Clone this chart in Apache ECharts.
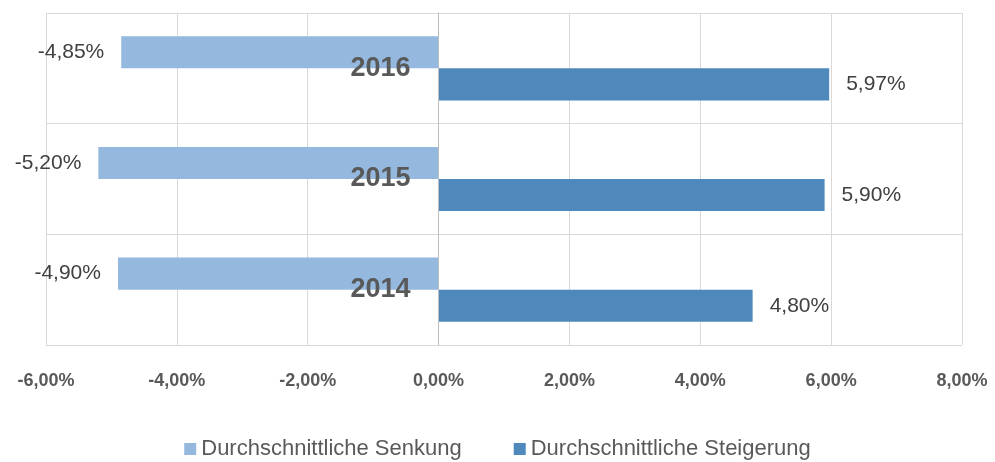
<!DOCTYPE html>
<html><head><meta charset="utf-8">
<script src="https://cdn.jsdelivr.net/npm/echarts@6/dist/echarts.min.js"></script>
<style>html,body{margin:0;padding:0;background:#fff}#c{width:995px;height:462px}</style>
</head><body><div id="c"></div>
<script>
var categories = ['2014', '2015', '2016'];
var senkung = [-4.90, -5.20, -4.85];
var steigerung = [4.80, 5.90, 5.97];
var seriesNames = ['Durchschnittliche Senkung', 'Durchschnittliche Steigerung'];
var xTicks = { min: -6, max: 8, interval: 2 };

function pct(v) { return v.toFixed(2).replace('.', ',') + '%'; }
var font = "'Liberation Sans', Arial, sans-serif";
var gridLeft = 46, gridRight = 33, W = 995;
var zeroOffset = (W - gridLeft - gridRight) * (0 - xTicks.min) / (xTicks.max - xTicks.min);
var chart = echarts.init(document.getElementById('c'), null, { renderer: 'canvas' });
chart.setOption({
  animation: false,
  textStyle: { fontFamily: font },
  grid: { left: gridLeft, right: gridRight, top: 13, bottom: 117, containLabel: false, outerBoundsMode: 'none' },
  legend: {
    top: 433, left: 'center', itemWidth: 12, itemHeight: 12, itemGap: 52,
    icon: 'rect',
    textStyle: { fontSize: 22, color: '#595959', fontFamily: font },
    data: seriesNames
  },
  xAxis: {
    type: 'value', min: xTicks.min, max: xTicks.max, interval: xTicks.interval,
    axisLine: { show: false }, axisTick: { show: false },
    splitLine: { lineStyle: { color: '#d9d9d9', width: 1 } },
    axisLabel: { formatter: pct, fontSize: 18, fontWeight: 'bold', color: '#595959', margin: 27, fontFamily: font }
  },
  yAxis: {
    type: 'category', data: categories, z: 10, offset: -zeroOffset,
    axisLine: { onZero: false, lineStyle: { color: '#bfbfbf', width: 1 } },
    axisTick: { show: false },
    splitLine: { show: true, lineStyle: { color: '#d9d9d9', width: 1 } },
    axisLabel: { fontSize: 27, fontWeight: 'bold', color: '#595959', margin: 28, fontFamily: font }
  },
  series: [
    {
      name: seriesNames[0], type: 'bar', data: senkung, barCategoryGap: '42%', barGap: '0%',
      itemStyle: { color: '#95b8df' },
      label: { show: true, position: 'left', distance: 17, formatter: function (p) { return pct(p.value); }, fontSize: 21, color: '#404040', fontFamily: font }
    },
    {
      name: seriesNames[1], type: 'bar', data: steigerung, barCategoryGap: '42%', barGap: '0%',
      itemStyle: { color: '#4f89bc' },
      label: { show: true, position: 'right', distance: 17, formatter: function (p) { return pct(p.value); }, fontSize: 21, color: '#404040', fontFamily: font }
    }
  ]
});
</script></body></html>
